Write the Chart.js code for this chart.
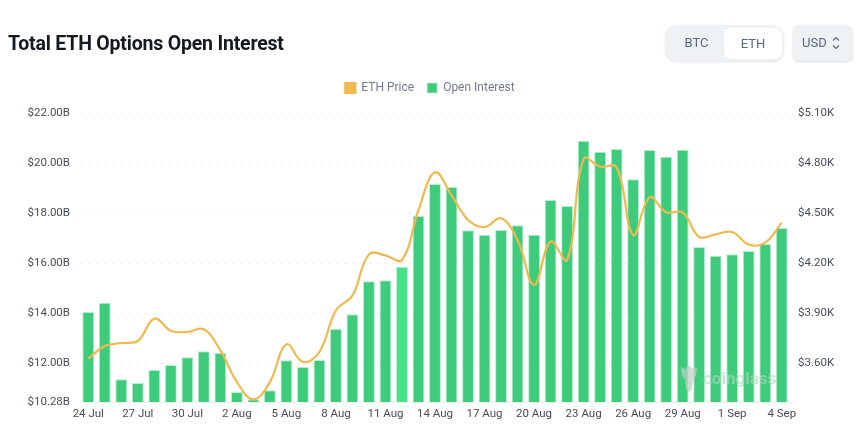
<!DOCTYPE html>
<html>

<head>
    <title>Total ETH Options Open Interest</title>

    <script>
        const dates = [
            '24 Jul', '25 Jul', '26 Jul', '27 Jul', '28 Jul', '29 Jul', '30 Jul', '31 Jul',
            '1 Aug', '2 Aug', '3 Aug', '4 Aug', '5 Aug', '6 Aug', '7 Aug', '8 Aug', '9 Aug', '10 Aug',
            '11 Aug', '12 Aug', '13 Aug', '14 Aug', '15 Aug', '16 Aug', '17 Aug', '18 Aug', '19 Aug',
            '20 Aug', '21 Aug', '22 Aug', '23 Aug', '24 Aug', '25 Aug', '26 Aug', '27 Aug', '28 Aug',
            '29 Aug', '30 Aug', '31 Aug', '1 Sep', '2 Sep', '3 Sep', '4 Sep',
        ];

        // billions of USD
        const openInterest = [
            14.06, 14.43, 11.37, 11.22, 11.74, 11.94, 12.25, 12.49, 12.42, 10.86, 10.57,
            10.93, 12.13, 11.86, 12.14, 13.38, 13.97, 15.29, 15.33, 15.87, 17.90, 19.18,
            19.06, 17.33, 17.15, 17.34, 17.53, 17.15, 18.54, 18.30, 20.91, 20.47, 20.58,
            19.37, 20.54, 20.27, 20.55, 16.66, 16.31, 16.37, 16.50, 16.78, 17.42,
        ];

        // thousands of USD
        const ethPrice = [
            3.629, 3.705, 3.723, 3.735, 3.869, 3.797, 3.789, 3.805, 3.679, 3.489, 3.385,
            3.489, 3.715, 3.609, 3.669, 3.919, 4.009, 4.255, 4.249, 4.221, 4.521, 4.747,
            4.611, 4.461, 4.419, 4.471, 4.341, 4.071, 4.331, 4.221, 4.827, 4.781, 4.777,
            4.371, 4.597, 4.507, 4.507, 4.359, 4.375, 4.389, 4.313, 4.325, 4.445,
        ];

        // the bottom label of the reference does not sit where its value would on a linear axis,
        // so the first tick is placed by position and labelled from the list
        const leftTicks = [10.46, 12, 14, 16, 18, 20, 22];
        const leftTickLabels = ['$10.28B', '$12.00B', '$14.00B', '$16.00B', '$18.00B', '$20.00B', '$22.00B'];
        const rightTicks = [3.6, 3.9, 4.2, 4.5, 4.8, 5.1];
        const rightTickLabels = ['$3.60K', '$3.90K', '$4.20K', '$4.50K', '$4.80K', '$5.10K'];
    </script>

    <style>
        html,
        body {
            margin: 0;
            padding: 0;
            background-color: #fff;
            font-family: Roboto, sans-serif;
            overflow: hidden;
        }

        #root {
            position: relative;
            width: 860px;
            height: 424px;
        }

        #chart {
            position: absolute;
            left: 0;
            top: 0;
        }

        h1 {
            position: absolute;
            left: 8px;
            top: 33px;
            margin: 0;
            font-size: 19.5px;
            line-height: 22px;
            font-weight: 700;
            letter-spacing: -0.2px;
            color: #14181f;
            white-space: nowrap;
        }

        .toggle {
            position: absolute;
            left: 665px;
            top: 25px;
            width: 119px;
            height: 36px;
            border-radius: 12px;
            background-color: #eff2f5;
            box-shadow: 0 1px 2px rgba(88, 102, 126, 0.18);
            font-size: 13px;
            line-height: 36px;
            color: #58667e;
        }

        .toggle span {
            position: absolute;
            top: 0;
            text-align: center;
        }

        .toggle .on {
            top: 3px;
            left: 59px;
            width: 58px;
            height: 31px;
            line-height: 31px;
            border-radius: 8px;
            background-color: #fff;
        }

        .select {
            position: absolute;
            left: 793px;
            top: 25px;
            width: 60px;
            height: 36px;
            border-radius: 6px;
            background-color: #eff2f5;
            box-shadow: 0 1px 2px rgba(88, 102, 126, 0.25);
            font-size: 13px;
            line-height: 36px;
            color: #58667e;
        }

        .select span {
            position: absolute;
            left: 9px;
        }

        .select svg {
            position: absolute;
            left: 39px;
            top: 11px;
        }

        .mark {
            position: absolute;
            left: 680px;
            top: 364px;
            height: 28px;
            display: flex;
            align-items: center;
            gap: 5px;
            color: rgba(170, 215, 190, 0.65);
            font-size: 17px;
            font-weight: 700;
        }
    </style>
</head>

<body>
    <div id="root">
        <canvas id="chart" width="860" height="424"></canvas>
        <h1>Total ETH Options Open Interest</h1>
        <div class="toggle">
            <span style="left:0;width:63px">BTC</span>
            <span class="on">ETH</span>
        </div>
        <div class="select">
            <span>USD</span>
            <svg width="8" height="14" viewBox="0 0 8 14" fill="none" stroke="#58667e" stroke-width="1.2">
                <path d="M1 4.5 L4 1.5 L7 4.5" />
                <path d="M1 9.5 L4 12.5 L7 9.5" />
            </svg>
        </div>
        <div class="mark">
            <svg width="18" height="28" viewBox="0 0 18 28" fill="rgba(190,205,198,0.7)">
                <path d="M1 3 L5 5 L9 1 L13 5 L17 3 L16 12 L13 16 L12 25 L9 28 L6 25 L5 16 L2 12 Z" />
            </svg>
            <span>coinglass</span>
        </div>
    </div>
    <script src="https://cdn.jsdelivr.net/npm/chart.js"></script>
    <script>
        const barColor = '#3ecb7c';
        const barColors = openInterest.map((v, i) => (dates[i] === '12 Aug' ? '#47e288' : barColor));

        // legend item gap and the space under the legend are separate in the reference
        const legendGap = {
            id: 'legendGap',
            beforeInit(chart) {
                const fit = chart.legend.fit;
                chart.legend.fit = function () {
                    fit.call(this);
                    this.height += 9.5;
                };
            }
        };

        new Chart(document.getElementById('chart'), {
            plugins: [legendGap],
            data: {
                labels: dates,
                datasets: [{
                    type: 'line',
                    label: 'ETH Price',
                    data: ethPrice,
                    yAxisID: 'yRight',
                    borderColor: '#f0b94f',
                    backgroundColor: '#f0b94f',
                    borderWidth: 2.2,
                    pointRadius: 0,
                    tension: 0.4,
                    order: 0,
                }, {
                    type: 'bar',
                    label: 'Open Interest',
                    data: openInterest,
                    yAxisID: 'yLeft',
                    backgroundColor: barColors,
                    borderColor: '#b5eed0',
                    borderWidth: 1,
                    categoryPercentage: 1,
                    barPercentage: 0.72,
                    order: 1,
                }]
            },
            options: {
                responsive: false,
                animation: false,
                layout: {
                    padding: { top: 69 }
                },
                plugins: {
                    tooltip: { enabled: false },
                    legend: {
                        position: 'top',
                        labels: {
                            boxWidth: 10,
                            boxHeight: 10,
                            padding: 13,
                            color: '#707a8a',
                            font: { family: 'Roboto', size: 12 },
                        }
                    }
                },
                scales: {
                    x: {
                        offset: true,
                        grid: { display: false, drawTicks: false, tickLength: 0 },
                        border: { color: '#f0f1f2' },
                        afterFit: (scale) => { scale.height = 22; },
                        ticks: {
                            autoSkip: false,
                            maxRotation: 0,
                            padding: 5,
                            color: '#474d57',
                            font: { family: 'Roboto', size: 11.5 },
                            callback: (value, index) => (index % 3 === 0 ? dates[index] : ''),
                        }
                    },
                    yLeft: {
                        position: 'left',
                        min: leftTicks[0],
                        max: leftTicks[leftTicks.length - 1],
                        afterFit: (scale) => { scale.width = 80; },
                        afterBuildTicks: (scale) => { scale.ticks = leftTicks.map((value) => ({ value })); },
                        border: { display: false, dash: [4, 4] },
                        grid: { color: '#f0f1f3', drawTicks: false, tickLength: 0 },
                        ticks: {
                            padding: 10,
                            color: '#474d57',
                            font: { family: 'Roboto', size: 11.5 },
                            callback: (value) => leftTickLabels[leftTicks.indexOf(value)],
                        }
                    },
                    yRight: {
                        position: 'right',
                        min: 3.369,
                        max: rightTicks[rightTicks.length - 1],
                        afterFit: (scale) => { scale.width = 70; },
                        afterBuildTicks: (scale) => { scale.ticks = rightTicks.map((value) => ({ value })); },
                        border: { display: false },
                        grid: { drawOnChartArea: false, drawTicks: false, tickLength: 0 },
                        ticks: {
                            padding: 8,
                            color: '#474d57',
                            font: { family: 'Roboto', size: 11.5 },
                            callback: (value) => rightTickLabels[rightTicks.indexOf(value)],
                        }
                    }
                }
            }
        });
    </script>
</body>

</html>
